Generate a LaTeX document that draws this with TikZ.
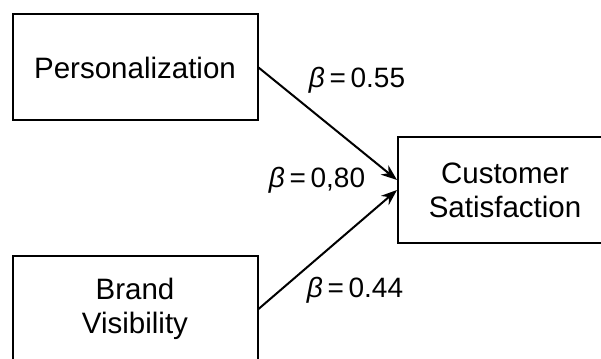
\documentclass[tikz,border=0pt]{standalone}
\usepackage{fontspec}
\setmainfont{Liberation Sans}
\usetikzlibrary{arrows.meta}
\begin{document}
\begin{tikzpicture}[x=1pt,y=-1pt,
  box/.style={draw, line width=2pt, minimum width=245pt, minimum height=106pt,
    align=center, font=\fontsize{29.5}{34}\selectfont, inner sep=0pt},
  lab/.style={font=\fontsize{28}{32}\selectfont, inner sep=0pt},
  arr/.style={line width=2pt, -{Stealth[length=16pt, width=12pt]}}]
\useasboundingbox (0,0) rectangle (601,358);
\clip (0,0) rectangle (601,358);
\node[box] (P) at (135,67.5) {Personalization};
\node[box] (B) at (135,309) {Brand\\Visibility};
\node[box, minimum width=214pt] (C) at (505,190) {Customer\\Satisfaction};
\draw[arr] (P.east) -- ([yshift=10pt]C.west);
\draw[arr] (B.east) -- (C.west);
\node[lab] (l1) at (357,80) {{\itshape β}\,=\,0.55};
\node[lab] (l2) at (317,180) {{\itshape β}\,=\,0,80};
\node[lab] (l3) at (355,290) {{\itshape β}\,=\,0.44};
\end{tikzpicture}
\end{document}
